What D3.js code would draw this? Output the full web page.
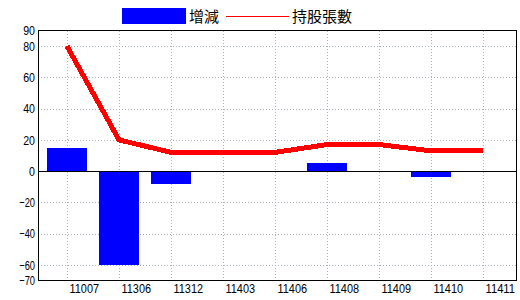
<!DOCTYPE html>
<html>
<head>
<meta charset="utf-8">
<script src="https://cdn.jsdelivr.net/npm/d3@7"></script>
<style>
  html, body { margin: 0; padding: 0; background: #fff; }
  svg { display: block; }
  .tick text { font-family: "Liberation Sans", Arial, sans-serif; font-size: 13px; fill: #000; }
</style>
</head>
<body>
<svg id="chart" width="520" height="300"></svg>
<script>
const categories = ["11007", "11306", "11312", "11403", "11406", "11408", "11409", "11410", "11411"];
const changeValues = [15, -60, -8, 0, 0, 5, 0, -4, 0];
const holderValues = [80, 20, 12, 12, 12, 17, 17, 13, 13];
const yTickValues = [90, 80, 60, 40, 20, 0, -20, -40, -60, -70];
const yGridValues = [80, 60, 40, 20, -20, -40, -60];
const legendLabels = ["增減", "持股張數"];

const svg = d3.select("#chart");
const plot = { left: 38, right: 516, top: 30.5, bottom: 280.5 };

const x = d3.scalePoint().domain(categories).range([67, 483]);
const y = d3.scaleLinear().domain([-70, 90]).range([plot.bottom, plot.top]);

const gridColor = "#a7b3bf";

// narrow text width (condensed look)
const narrowWidth = s => {
  let w = 0;
  for (const ch of String(s)) w += (ch === "-" ? 4 : 5.9);
  return w;
};

// horizontal grid
svg.append("g").selectAll("line").data(yGridValues).join("line")
  .attr("x1", plot.left).attr("x2", plot.right)
  .attr("y1", d => Math.round(y(d)) + 0.5).attr("y2", d => Math.round(y(d)) + 0.5)
  .attr("stroke", gridColor).attr("stroke-width", 1).attr("stroke-dasharray", "1,2")
  .attr("shape-rendering", "crispEdges");

// vertical grid
svg.append("g").selectAll("line").data(categories).join("line")
  .attr("x1", d => Math.round(x(d)) + 0.5).attr("x2", d => Math.round(x(d)) + 0.5)
  .attr("y1", plot.top).attr("y2", plot.bottom)
  .attr("stroke", gridColor).attr("stroke-width", 1).attr("stroke-dasharray", "1,2")
  .attr("shape-rendering", "crispEdges");

// bars
const barW = 40;
svg.append("g").selectAll("rect").data(categories.map((c, i) => ({ c, v: changeValues[i] })).filter(d => d.v !== 0))
  .join("rect")
  .attr("x", d => x(d.c) - barW / 2)
  .attr("width", barW)
  .attr("y", d => Math.min(y(d.v), y(0)))
  .attr("height", d => Math.abs(y(d.v) - y(0)))
  .attr("fill", "#0000ff")
  .attr("shape-rendering", "crispEdges");

// zero line
svg.append("line")
  .attr("x1", plot.left).attr("x2", plot.right)
  .attr("y1", Math.round(y(0)) + 0.5).attr("y2", Math.round(y(0)) + 0.5)
  .attr("stroke", "#000").attr("stroke-width", 1.5).attr("shape-rendering", "crispEdges");

// line
const line = d3.line().x((d, i) => x(categories[i])).y(d => y(d));
svg.append("path").datum(holderValues)
  .attr("d", line)
  .attr("fill", "none").attr("stroke", "#ff0000").attr("stroke-width", 5)
  .attr("stroke-linejoin", "round")
  .attr("shape-rendering", "crispEdges");

// frame
svg.append("rect")
  .attr("x", plot.left + 0.5).attr("y", plot.top)
  .attr("width", plot.right - plot.left).attr("height", plot.bottom - plot.top)
  .attr("fill", "none").attr("stroke", "#000").attr("stroke-width", 1.5)
  .attr("shape-rendering", "crispEdges");

// y axis labels
const yAxis = d3.axisLeft(y).tickValues(yTickValues).tickSize(0).tickPadding(3).tickFormat(d3.format("d"));
const gy = svg.append("g").attr("transform", `translate(${plot.left},0)`).call(yAxis);
gy.select(".domain").remove();
gy.selectAll(".tick text")
  .attr("textLength", d => narrowWidth(d))
  .attr("lengthAdjust", "spacingAndGlyphs");

// x axis labels (start-aligned just right of each gridline)
const xAxis = d3.axisBottom(x).tickSize(0).tickPadding(3);
const gx = svg.append("g").attr("transform", `translate(0,${plot.bottom})`).call(xAxis);
gx.select(".domain").remove();
gx.selectAll(".tick text").attr("text-anchor", "start").attr("dx", 2)
  .attr("textLength", d => narrowWidth(d))
  .attr("lengthAdjust", "spacingAndGlyphs");

// legend
const lg = svg.append("g");
lg.append("rect").attr("x", 122).attr("y", 8).attr("width", 64).attr("height", 16).attr("fill", "#0000ff");
lg.append("text").attr("x", 189).attr("y", 22).text(legendLabels[0])
  .attr("font-family", '"Noto Sans CJK TC", sans-serif').attr("font-size", 15).attr("fill", "#000");
lg.append("line").attr("x1", 226).attr("x2", 289).attr("y1", 16.5).attr("y2", 16.5)
  .attr("stroke", "#ff0000").attr("stroke-width", 1);
lg.append("text").attr("x", 292).attr("y", 22).text(legendLabels[1])
  .attr("font-family", '"Noto Sans CJK TC", sans-serif').attr("font-size", 15).attr("fill", "#000");
</script>
</body>
</html>
